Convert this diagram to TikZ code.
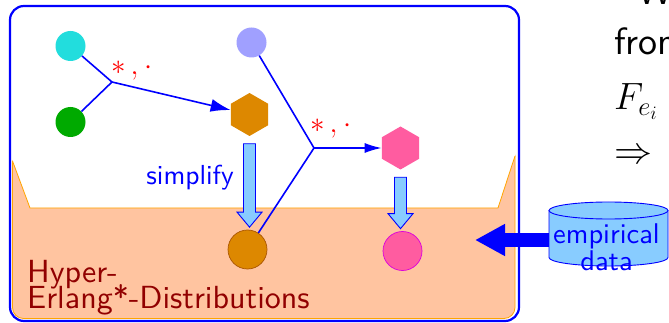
\RequirePackage{fix-cm}
\documentclass[tikz,border=0pt]{standalone}
\usepackage{fontspec}
\setsansfont{lmsans10-regular.otf}
\usetikzlibrary{shapes.geometric,arrows.meta,calc}

\definecolor{conn}{RGB}{0,0,255}
\definecolor{peach}{RGB}{255,196,160}
\definecolor{rimorange}{RGB}{255,165,0}
\definecolor{paleblue}{RGB}{136,204,255}
\definecolor{cyanball}{RGB}{34,221,221}
\definecolor{greenball}{RGB}{0,170,0}
\definecolor{lavball}{RGB}{160,160,255}
\definecolor{amber}{RGB}{221,136,0}
\definecolor{amberrim}{RGB}{170,85,0}
\definecolor{rose}{RGB}{255,92,160}
\definecolor{roserim}{RGB}{220,0,220}
\definecolor{wine}{RGB}{145,0,0}

\tikzset{
  frame/.style={draw=conn, line width=2.2pt, rounded corners=14pt, fill=white},
  region/.style={fill=peach, draw=rimorange, line width=0.8pt},
  ball/.style={circle, minimum size=30pt, inner sep=0pt},
  bigball/.style={circle, minimum size=39pt, inner sep=0pt, line width=0.7pt},
  hexa/.style={regular polygon, regular polygon sides=6, shape border rotate=30,
               minimum size=43pt, inner sep=0pt},
  wire/.style={draw=conn, line width=1.6pt},
  oplabel/.style={text=red, inner sep=0pt, font=\fontsize{29}{30}\selectfont},
  hollowarr/.style={fill=paleblue, draw=conn, line width=0.9pt, line join=miter},
  bluetext/.style={text=conn, inner sep=0pt},
  classtext/.style={text=wine, inner sep=0pt, font=\sffamily\fontsize{32}{26}\selectfont},
  slidetext/.style={text=black, inner sep=0pt, font=\sffamily\fontsize{38}{40}\selectfont},
  dbshape/.style={fill=paleblue, draw=conn, line width=0.9pt},
}

% fat two-tone arrow pointing down from node #1 to node #2
\newcommand\hollowdown[2]{%
  \draw[hollowarr] let \p1=($(#1.south)+(0pt,-7.5pt)$), \p2=($(#2.north)+(0pt,2.5pt)$) in
    (\x1-6pt,\y1) -- (\x1+6pt,\y1) -- (\x1+6pt,\y2+15pt) -- (\x1+12.5pt,\y2+15pt)
    -- (\x1,\y2) -- (\x1-12.5pt,\y2+15pt) -- (\x1-6pt,\y2+15pt) -- cycle;}

\begin{document}
\begin{tikzpicture}[x=1pt, y=-1pt, font=\sffamily\fontsize{27.5}{27}\selectfont]
\useasboundingbox (0,0) rectangle (669,323);
\clip (0,0) rectangle (669,323);

% outer frame
\draw[frame] (10,6) rectangle (519,321);

% shaded class region with its notched top edge
\begin{scope}
  \clip (0,130) -- (12.5,161) -- (30,208) -- (498,208) -- (515,156) -- (530,110)
        -- (530,330) -- (0,330) -- cycle;
  \filldraw[region, rounded corners=11pt] (12.5,120) rectangle (515,318.5);
\end{scope}
\draw[region, fill=none] (12.5,161) -- (30,208) -- (498,208) -- (515,156);

% input distributions
\node[ball, fill=cyanball] (cyanB) at (70.5,46) {};
\node[ball, fill=greenball] (greenB) at (70.5,122) {};
\node[ball, fill=lavball] (lavB) at (251.5,42.5) {};

% intermediate results
\node[hexa, fill=amber] (hexO) at (249.5,114.5) {};
\node[hexa, fill=rose] (hexP) at (400.5,148) {};

% simplified results
\node[bigball, fill=amber, draw=amberrim] (circO) at (247.5,249.5) {};
\node[bigball, fill=rose, draw=roserim] (circP) at (402.5,251) {};

% operator junctions
\coordinate (j1) at (112,82);
\coordinate (j2) at (314,148);

\draw[wire] (cyanB) -- (j1);
\draw[wire] (greenB) -- (j1);
\draw[wire, -{Latex[length=20pt,width=13pt]}] (j1) -- (hexO);
\draw[wire] (lavB) -- (j2) -- (circO);
\draw[wire, -{Latex[length=17pt,width=10pt]}] (j2) -- (hexP);

\node[oplabel, anchor=base west] (op1) at (111,75) {$*\mkern3mu,\mkern1mu\cdot$};
\node[oplabel, anchor=base west] (op2) at (310,133) {$*\mkern3mu,\mkern1mu\cdot$};

% simplification steps
\hollowdown{hexO}{circO}
\hollowdown{hexP}{circP}
\node[bluetext, anchor=base east] (simp) at (234,185) {simplify};

% class name
\node[classtext, anchor=base west] (hyp1) at (27,282) {Hyper-};
\node[classtext, anchor=base west] (hyp2) at (27,308) {Erlang*-Distributions};

% data store and fitting arrow
\coordinate (cylW) at (560,240);
\coordinate (dataIn) at (475,240);
\draw[draw=conn, line width=14pt, -{Triangle[length=30pt,width=30pt]}] (cylW) -- (dataIn);

\fill[paleblue] (549,210.5) -- (549,257.5) arc[start angle=180, end angle=0, x radius=59.5, y radius=8.5]
  -- (668,210.5) -- cycle;
\draw[dbshape, fill=none] (549,210.5) -- (549,257.5) arc[start angle=180, end angle=0, x radius=59.5, y radius=8.5]
  -- (668,210.5);
\draw[dbshape] (608.5,210.5) ellipse [x radius=59.5, y radius=8.5];
\node[bluetext, anchor=base, font=\sffamily\fontsize{28.5}{28}\selectfont] (db) at (606.5,243) {empirical};
\node[bluetext, anchor=base, font=\sffamily\fontsize{28.5}{28}\selectfont] (db2) at (606.5,270) {data};

% neighbouring slide text
\node[slidetext, anchor=base west] (wtxt) at (637,5) {W};
\node[slidetext, anchor=base west] (fromtxt) at (614,55) {from};
\node[slidetext, anchor=base west] (fe) at (614,110) {$F_{e_i}$};
\node[slidetext, anchor=west] (impl) at (614,157) {$\Rightarrow$};
\end{tikzpicture}
\end{document}
